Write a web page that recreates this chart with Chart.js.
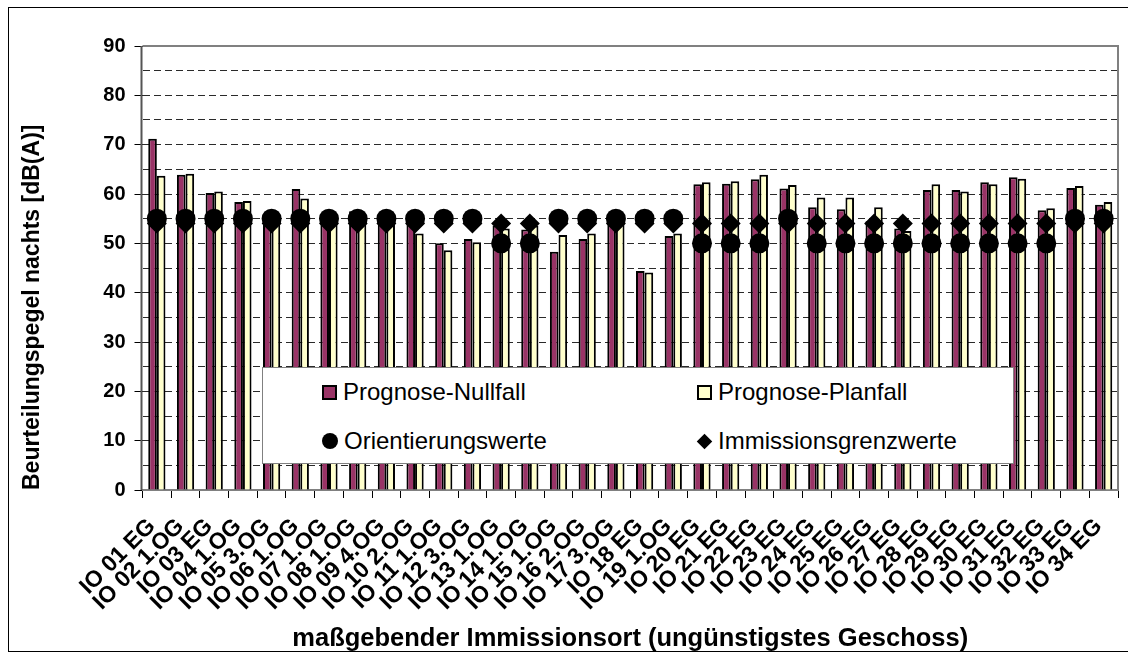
<!DOCTYPE html>
<html>
<head>
<meta charset="utf-8">
<script src="https://cdn.jsdelivr.net/npm/chart.js@4/dist/chart.umd.min.js"></script>
<style>
  body { margin: 0; background: #fff; }
  #wrap { position: relative; width: 1128px; height: 656px; }
  #legend {
    position: absolute; left: 262px; top: 367px; width: 750px; height: 95px;
    background: #fff; border: 1px solid #808080;
    font: 24px 'Liberation Sans', Arial, sans-serif; color: #000;
  }
  .item { position: absolute; display: flex; align-items: center; height: 30px; white-space: nowrap; }
  .mk { box-sizing: border-box; margin-right: 6px; flex: none; }
</style>
</head>
<body>
<div id="wrap">
  <canvas id="chart" width="1128" height="656"></canvas>
  <div id="legend"></div>
</div>
<script>
const labels = [
  'IO 01 EG', 'IO 02 1.OG', 'IO 03 EG', 'IO 04 1.OG', 'IO 05 3.OG', 'IO 06 1.OG',
  'IO 07 1.OG', 'IO 08 1.OG', 'IO 09 4.OG', 'IO 10 2.OG', 'IO 11 1.OG', 'IO 12 3.OG',
  'IO 13 1.OG', 'IO 14 1.OG', 'IO 15 1.OG', 'IO 16 2.OG', 'IO 17 3.OG', 'IO 18 EG',
  'IO 19 1.OG', 'IO 20 EG', 'IO 21 EG', 'IO 22 EG', 'IO 23 EG', 'IO 24 EG',
  'IO 25 EG', 'IO 26 EG', 'IO 27 EG', 'IO 28 EG', 'IO 29 EG', 'IO 30 EG',
  'IO 31 EG', 'IO 32 EG', 'IO 33 EG', 'IO 34 EG'
];

// Prognose-Nullfall (dunkle Balken)
const nullfall = [
  71.2, 63.9, 60.2, 58.4, 55.0, 61.0, 55.3, 56.5, 55.5, 55.8, 50.0, 50.9,
  53.6, 52.8, 48.3, 50.9, 55.2, 44.4, 51.5, 62.0, 62.1, 63.0, 61.1, 57.3,
  56.9, 54.5, 53.0, 60.8, 60.8, 62.4, 63.4, 56.7, 61.2, 57.8
];

// Prognose-Planfall (helle Balken)
const planfall = [
  63.7, 64.1, 60.5, 58.6, 54.8, 59.1, 54.8, 55.5, 55.0, 52.0, 48.6, 50.2,
  53.0, 53.6, 51.7, 52.0, 54.5, 44.1, 52.0, 62.4, 62.6, 63.9, 61.8, 59.3,
  59.3, 57.3, 52.5, 62.0, 60.5, 62.0, 63.1, 57.1, 61.6, 58.4
];

const orientierungswerte = [
  55, 55, 55, 55, 55, 55, 55, 55, 55, 55, 55, 55,
  50, 50, 55, 55, 55, 55, 55, 50, 50, 50, 55, 50,
  50, 50, 50, 50, 50, 50, 50, 50, 55, 55
];

const grenzwerte = [
  54, 54, 54, 54, 54, 54, 54, 54, 54, 54, 54, 54,
  54, 54, 54, 54, 54, 54, 54, 54, 54, 54, 54, 54,
  54, 54, 54, 54, 54, 54, 54, 54, 54, 54
];

const FONT = "'Liberation Sans', Arial, sans-serif";
Chart.defaults.font.family = FONT;
Chart.defaults.color = '#000';

// outer frame + plot area border
const framePlugin = {
  id: 'frame',
  beforeDraw(chart) {
    const ctx = chart.ctx;
    ctx.save();
    ctx.fillStyle = '#fff';
    ctx.fillRect(0, 0, chart.width, chart.height);
    ctx.restore();
  },
  afterDraw(chart) {
    const ctx = chart.ctx;
    const a = chart.chartArea;
    ctx.save();
    ctx.strokeStyle = '#808080';
    ctx.lineWidth = 2;
    ctx.beginPath();
    ctx.moveTo(a.left, a.top);
    ctx.lineTo(a.right, a.top);
    ctx.lineTo(a.right, a.bottom);
    ctx.stroke();
    ctx.strokeStyle = '#555';
    ctx.beginPath();
    ctx.moveTo(a.left - 1, a.top);
    ctx.lineTo(a.left - 1, a.bottom);
    ctx.stroke();
    ctx.strokeStyle = '#000';
    ctx.lineWidth = 1;
    ctx.strokeRect(8.5, 7.5, chart.width + 10, 644);
    ctx.restore();
  }
};

const chart = new Chart(document.getElementById('chart'), {
  type: 'bar',
  data: {
    labels: labels,
    datasets: [
      {
        label: 'Prognose-Nullfall',
        data: nullfall,
        backgroundColor: '#993366',
        borderColor: '#000',
        borderWidth: 2,
        categoryPercentage: 0.6,
        barPercentage: 1.0,
        order: 2
      },
      {
        label: 'Prognose-Planfall',
        data: planfall,
        backgroundColor: '#FFFFCC',
        borderColor: '#000',
        borderWidth: 2,
        categoryPercentage: 0.6,
        barPercentage: 1.0,
        order: 2
      },
      {
        type: 'line',
        label: 'Orientierungswerte',
        data: orientierungswerte,
        showLine: false,
        pointStyle: 'circle',
        pointRadius: 10,
        pointBackgroundColor: '#000',
        pointBorderColor: '#000',
        pointBorderWidth: 0,
        order: 0
      },
      {
        type: 'line',
        label: 'Immissionsgrenzwerte',
        data: grenzwerte,
        showLine: false,
        pointStyle: 'rectRot',
        pointRadius: 10,
        pointBackgroundColor: '#000',
        pointBorderColor: '#000',
        pointBorderWidth: 0,
        order: 1
      }
    ]
  },
  options: {
    responsive: false,
    animation: false,
    layout: { padding: { top: 46, right: 2, left: 0, bottom: 0 } },
    plugins: {
      legend: { display: false },
      tooltip: { enabled: false }
    },
    scales: {
      x: {
        offset: true,
        grid: {
          offset: true,
          drawOnChartArea: false,
          tickLength: 8,
          tickColor: '#000',
          tickWidth: 1
        },
        border: { color: '#808080', width: 2 },
        ticks: {
          autoSkip: false,
          minRotation: 45,
          maxRotation: 45,
          padding: 15,
          labelOffset: -5,
          font: { size: 23, weight: 'bold' }
        },
        title: {
          display: true,
          text: 'maßgebender Immissionsort (ungünstigstes Geschoss)',
          font: { size: 25.5, weight: 'bold' },
          padding: { top: 0, bottom: 2 }
        },
        afterFit: s => { s.height = 166; s.paddingRight = 0; }
      },
      y: {
        min: 0,
        max: 90,
        ticks: {
          stepSize: 5,
          autoSkip: false,
          padding: 9,
          font: { size: 20, weight: 'bold' },
          callback: v => (v % 10 === 0 ? v : '')
        },
        grid: {
          color: c => (c.tick && (c.tick.value === 0 || c.tick.value === 90) ? 'rgba(0,0,0,0)' : '#2a2a2a'),
          lineWidth: 1,
          tickLength: 8,
          tickColor: c => (c.tick && c.tick.value % 10 === 0 ? '#000' : 'rgba(0,0,0,0)')
        },
        border: { display: false, dash: [7, 4] },
        title: {
          display: true,
          text: 'Beurteilungspegel nachts [dB(A)]',
          align: 'start',
          font: { size: 23, weight: 'bold' },
          padding: { top: 19, bottom: 0 }
        },
        afterFit: s => { s.width = 142.5; }
      }
    }
  },
  plugins: [framePlugin]
});

// legend box inside the plot, built from the datasets
const markers = [
  'width:15px;height:15px;border:2px solid #000;background:#993366;',
  'width:15px;height:15px;border:2px solid #000;background:#FFFFCC;',
  'width:16px;height:16px;border-radius:50%;background:#000;',
  'width:11px;height:11px;background:#000;transform:rotate(45deg);margin-left:2px;margin-right:8px;'
];
const legendPos = [[59, 9], [434, 9], [59, 58], [434, 58]];
const legendEl = document.getElementById('legend');
chart.data.datasets.forEach((ds, i) => {
  const item = document.createElement('div');
  item.className = 'item';
  item.style.left = legendPos[i][0] + 'px';
  item.style.top = legendPos[i][1] + 'px';
  item.innerHTML = `<span class="mk" style="${markers[i]}"></span><span>${ds.label}</span>`;
  legendEl.appendChild(item);
});
</script>
</body>
</html>
